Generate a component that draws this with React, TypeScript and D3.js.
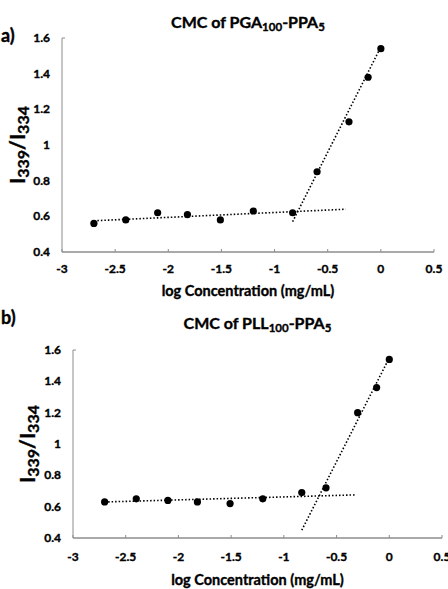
import React from 'react';
import * as d3 from 'd3';

// panel a) PGA100-PPA5
const xA = [-2.7, -2.4, -2.1, -1.82, -1.51, -1.2, -0.83, -0.6, -0.3, -0.12, 0];
const yA = [0.56, 0.58, 0.62, 0.61, 0.58, 0.63, 0.62, 0.85, 1.13, 1.38, 1.54];
const flatA = [[-2.7, 0.575], [-0.33, 0.64]];
const steepA = [[-0.83, 0.57], [0, 1.55]];

// panel b) PLL100-PPA5
const xB = [-2.7, -2.4, -2.1, -1.82, -1.51, -1.2, -0.83, -0.6, -0.3, -0.12, 0];
const yB = [0.63, 0.65, 0.64, 0.63, 0.62, 0.65, 0.69, 0.72, 1.2, 1.36, 1.54];
const flatB = [[-2.7, 0.63], [-0.33, 0.675]];
const steepB = [[-0.83, 0.45], [0, 1.55]];

const xTicks = [-3, -2.5, -2, -1.5, -1, -0.5, 0, 0.5];
const yTicks = [0.4, 0.6, 0.8, 1, 1.2, 1.4, 1.6];

const font = 'Lato, "Open Sans", sans-serif';
const axisGray = '#8c8c8c';

type PanelProps = {
  letter: string;
  polymer: string;
  xs: number[];
  ys: number[];
  flat: number[][];
  steep: number[][];
  left: number;
  right: number;
  top: number;
  bottom: number;
  titleY: number;
  tickY: number;
  xTitleY: number;
  yTitleX: number;
  letterY: number;
};

const Panel = (p: PanelProps) => {
  const x = d3.scaleLinear([-3, 0.5], [p.left, p.right]);
  const y = d3.scaleLinear([0.4, 1.6], [p.bottom, p.top]);
  const line = d3.line<number[]>((d) => x(d[0]), (d) => y(d[1]));
  const midX = (p.left + p.right) / 2;
  const midY = (p.top + p.bottom) / 2;
  return (
    <g fontFamily={font} fontWeight="bold" fill="#000" stroke="#000" strokeWidth={0.35}>
      <text x={1} y={p.letterY} fontSize={18}>{p.letter}</text>
      <text x={midX} y={p.titleY} fontSize={16} textAnchor="middle">
        CMC of {p.polymer}
        <tspan fontSize={11.5} dy={3}>100</tspan>
        <tspan dy={-3}>-PPA</tspan>
        <tspan fontSize={11.5} dy={3}>5</tspan>
      </text>
      {/* axes */}
      <g stroke={axisGray} strokeWidth={1}>
        <line x1={p.left} x2={p.left} y1={p.top} y2={p.bottom} />
        <line x1={p.left} x2={p.left + 3} y1={p.top} y2={p.top} />
        <line x1={p.left} x2={p.right} y1={p.bottom} y2={p.bottom} strokeWidth={1.3} />
        {xTicks.map((t) => (
          <line key={t} x1={x(t)} x2={x(t)} y1={p.bottom} y2={p.bottom - 3} />
        ))}
      </g>
      {xTicks.map((t) => (
        <text key={t} x={x(t)} y={p.tickY} fontSize={12} textAnchor="middle">{t}</text>
      ))}
      {yTicks.map((t) => (
        <text key={t} x={p.left - 12} y={y(t) + 4} fontSize={12} textAnchor="end">{t}</text>
      ))}
      <text x={midX} y={p.xTitleY} fontSize={14.5} textAnchor="middle">log Concentration (mg/mL)</text>
      <text transform={`translate(${p.yTitleX},${midY}) rotate(-90)`} fontSize={21} textAnchor="middle">
        I<tspan fontSize={16} dy={4}>339</tspan><tspan dy={-4}>/I</tspan><tspan fontSize={16} dy={4}>334</tspan>
      </text>
      {/* trend lines */}
      <g fill="none" stroke="#000" strokeWidth={1.6} strokeDasharray="1.5 2">
        <path d={line(p.flat) ?? ''} />
        <path d={line(p.steep) ?? ''} />
      </g>
      <g stroke="none">
        {p.xs.map((v, i) => (
          <circle key={i} cx={x(v)} cy={y(p.ys[i])} r={3.6} fill="#000" />
        ))}
      </g>
    </g>
  );
};

const App = () => (
  <svg width={448} height={589} style={{ position: 'absolute', left: 0, top: 0, background: '#fff' }}>
    <rect width={448} height={589} fill="#fff" />
    <Panel letter="a)" polymer="PGA" xs={xA} ys={yA} flat={flatA} steep={steepA}
      left={62} right={434} top={38} bottom={252}
      titleY={28} tickY={273} xTitleY={296} yTitleX={25} letterY={42} />
    <Panel letter="b)" polymer="PLL" xs={xB} ys={yB} flat={flatB} steep={steepB}
      left={73} right={442} top={350} bottom={538}
      titleY={329} tickY={561} xTitleY={585} yTitleX={35} letterY={324} />
  </svg>
);

export default App;
